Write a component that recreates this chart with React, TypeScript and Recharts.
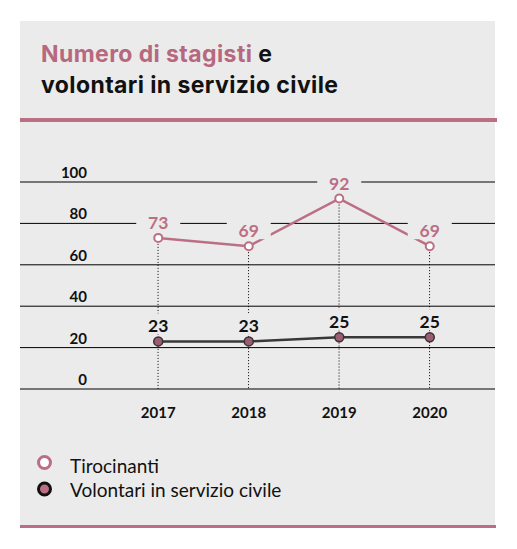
import { ComposedChart, Line, Bar, XAxis, YAxis, CartesianGrid, LabelList } from "recharts";

const years = ["2017", "2018", "2019", "2020"];
const tirocinanti = [73, 69, 92, 69];
const volontari = [23, 23, 25, 25];
const yTicks = [0, 20, 40, 60, 80, 100];
const seriesNames = ["Tirocinanti", "Volontari in servizio civile"];

const data = years.map((year, i) => ({ year, tirocinanti: tirocinanti[i], volontari: volontari[i] }));

const PINK = "#bc6f84";
const PINK_TITLE = "#b8687e";
const DARK = "#383838";
const BG = "#ebebeb";
const FONT = "Lato, 'Open Sans', sans-serif";
const TITLE_FONT = "Inter, 'Liberation Sans', sans-serif";

// dotted drop line from the Tirocinanti point down to zero
const DropLine = (props: any) => {
  const { x, y, width, height } = props;
  const cx = x + width / 2;
  return <line x1={cx} x2={cx} y1={y} y2={y + height} stroke="#000" strokeWidth={1} strokeDasharray="1 2" />;
};

const valueLabel = (color: string, weight: number) => (props: any) => {
  const { x, y, value } = props;
  return (
    <g>
      <rect x={x - 22} y={y - 28} width={44} height={21} fill={BG} />
      <text x={x} y={y - 9} textAnchor="middle" fill={color} fontSize={17.5} fontWeight={weight} fontFamily={FONT}>
        {value}
      </text>
    </g>
  );
};

const YTick = (props: any) => {
  const { x, y, payload } = props;
  return (
    <text x={x + 67} y={y - 4} textAnchor="end" fill="#111" fontSize={15} fontWeight={700} fontFamily={FONT}>
      {payload.value}
    </text>
  );
};

const XTick = (props: any) => {
  const { x, y, payload } = props;
  return (
    <text x={x} y={y + 29} textAnchor="middle" fill="#111" fontSize={15} fontWeight={700} fontFamily={FONT}>
      {payload.value}
    </text>
  );
};

export default function App() {
  return (
    <div style={{ position: "absolute", left: 0, top: 0, width: 517, height: 549, background: "#fff", overflow: "hidden" }}>
      <svg width={517} height={549} style={{ position: "absolute", left: 0, top: 0 }}>
        <rect x={20} y={21} width={475} height={504} fill={BG} />
        <text x={41} y={62} fontSize={23} letterSpacing={0.4} fontWeight={700} fontFamily={TITLE_FONT} fill="#111">
          <tspan fill={PINK_TITLE}>Numero di stagisti</tspan> e
        </text>
        <text x={41} y={93} fontSize={23} letterSpacing={0.4} fontWeight={700} fontFamily={TITLE_FONT} fill="#111">
          volontari in servizio civile
        </text>
        <rect x={20} y={118} width={477} height={4} fill={PINK} />
        <rect x={20} y={525} width={476} height={3} fill={PINK} />

        <circle cx={44.5} cy={462.5} r={6} fill="#fff" stroke={PINK} strokeWidth={3} />
        <text x={70} y={472.5} fontSize={19} fontFamily={FONT} fill="#111">{seriesNames[0]}</text>
        <circle cx={44.5} cy={489} r={6} fill={PINK} stroke="#111" strokeWidth={3} />
        <text x={70} y={496.7} fontSize={19} fontFamily={FONT} fill="#111">{seriesNames[1]}</text>
      </svg>

      <div style={{ position: "absolute", left: 19, top: 130 }}>
        <ComposedChart width={476} height={300} data={data} margin={{ top: 52, right: 0, left: 0, bottom: 11 }}>
          <CartesianGrid vertical={false} stroke="#000" strokeWidth={1} />
          <XAxis
            dataKey="year"
            height={30}
            padding={{ left: 93, right: 20 }}
            axisLine={false}
            tickLine={false}
            tickSize={0}
            tickMargin={0}
            tick={<XTick />}
            interval={0}
          />
          <YAxis
            domain={[0, 100]}
            ticks={yTicks}
            width={1}
            axisLine={false}
            tickLine={false}
            tickSize={0}
            tickMargin={0}
            tick={<YTick />}
            interval={0}
          />
          <Bar dataKey="tirocinanti" shape={<DropLine />} isAnimationActive={false} />
          <Line
            dataKey="volontari"
            name={seriesNames[1]}
            stroke={DARK}
            strokeWidth={2.5}
            dot={{ r: 4.5, fill: "#9c5c74", stroke: "#333", strokeWidth: 1.5 }}
            isAnimationActive={false}
          >
            <LabelList dataKey="volontari" content={valueLabel("#111", 700)} />
          </Line>
          <Line
            dataKey="tirocinanti"
            name={seriesNames[0]}
            stroke={PINK}
            strokeWidth={2.5}
            dot={{ r: 4, fill: "#fff", stroke: PINK, strokeWidth: 2 }}
            isAnimationActive={false}
          >
            <LabelList dataKey="tirocinanti" content={valueLabel(PINK, 700)} />
          </Line>
        </ComposedChart>
      </div>
    </div>
  );
}
